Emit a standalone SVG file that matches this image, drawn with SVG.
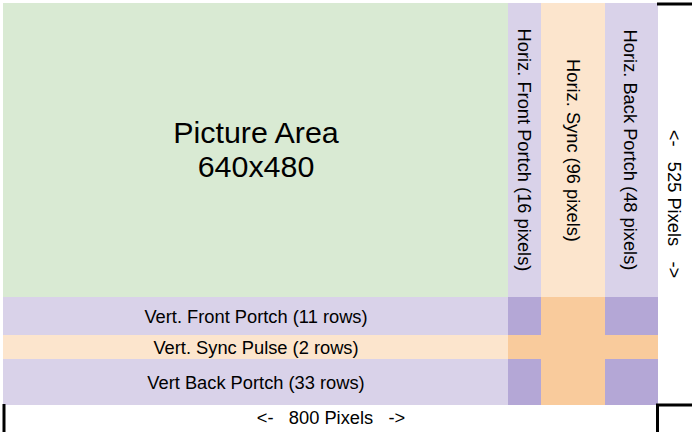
<svg xmlns="http://www.w3.org/2000/svg" width="692" height="432" viewBox="0 0 692 432">
<style>
.t{font-family:"Liberation Sans",Arial,sans-serif;font-size:18.3px;fill:#000;text-anchor:middle;white-space:pre}
.big{font-size:30.4px}
.g{fill:#d9ead3}.lp{fill:#d9d2e9}.lo{fill:#fce5cd}.dp{fill:#b4a7d6}.do{fill:#f9cb9c}
.br{stroke:#000;stroke-width:3;fill:none}
</style>
<rect width="692" height="432" fill="#fff"/>
<g id="picture-area">
<rect class="g" x="3" y="3" width="505" height="294"/>
<text class="t big" x="256" y="143">Picture Area</text>
<text class="t big" x="256" y="177">640x480</text>
</g>
<g id="horiz-front-porch">
<rect class="lp" x="508" y="3" width="33" height="294"/>
<text class="t" transform="translate(518.2,150) rotate(90)">Horiz. Front Portch (16 pixels)</text>
</g>
<g id="horiz-sync">
<rect class="lo" x="541" y="3" width="64" height="294"/>
<text class="t" transform="translate(566.5,150.5) rotate(90)">Horiz. Sync (96 pixels)</text>
</g>
<g id="horiz-back-porch">
<rect class="lp" x="605" y="3" width="53" height="294"/>
<text class="t" transform="translate(624,150) rotate(90)">Horiz. Back Portch (48 pixels)</text>
</g>
<g id="vert-front-porch">
<rect class="lp" x="3" y="297" width="505" height="38"/>
<text class="t" x="256" y="322.8">Vert. Front Portch (11 rows)</text>
</g>
<g id="vert-sync-pulse">
<rect class="lo" x="3" y="335" width="505" height="24"/>
<text class="t" x="256" y="353.6">Vert. Sync Pulse (2 rows)</text>
</g>
<g id="vert-back-porch">
<rect class="lp" x="3" y="359" width="505" height="46"/>
<text class="t" x="256" y="388.6">Vert Back Portch (33 rows)</text>
</g>
<g id="blanking-overlap">
<rect class="dp" x="508" y="297" width="33" height="38"/>
<rect class="do" x="541" y="297" width="64" height="38"/>
<rect class="dp" x="605" y="297" width="53" height="38"/>
<rect class="do" x="508" y="335" width="150" height="24"/>
<rect class="dp" x="508" y="359" width="33" height="46"/>
<rect class="do" x="541" y="359" width="64" height="46"/>
<rect class="dp" x="605" y="359" width="53" height="46"/>
</g>
<g id="dimensions">
<path class="br" d="M657,4 H692"/>
<path class="br" d="M657.5,432 V405 H692"/>
<path class="br" d="M4,404 V432"/>
<text class="t" x="331" y="423.5">&lt;-   800 Pixels   -&gt;</text>
<text class="t" transform="translate(667.8,204) rotate(90)">&lt;-   525 Pixels   -&gt;</text>
</g>
</svg>
